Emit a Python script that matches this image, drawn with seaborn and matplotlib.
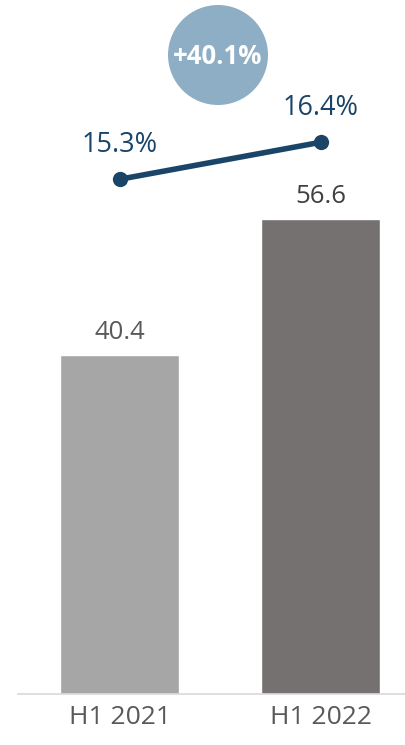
import seaborn as sns
import matplotlib.pyplot as plt
from matplotlib.patches import Ellipse
import pandas as pd

# chart data
periods = ["H1 2021", "H1 2022"]
revenue = [40.4, 56.6]
margin = [15.3, 16.4]
growth_label = "+40.1%"
bar_colors = ["#A6A6A6", "#767171"]
value_colors = ["#595959", "#404040"]

df = pd.DataFrame({"period": periods, "revenue": revenue, "margin": margin})

sns.set_style("white")
plt.rcParams['font.family'] = ['Open Sans', 'DejaVu Sans']

fig = plt.figure(figsize=(4.06, 7.45), dpi=100)
ax = fig.add_axes([18 / 406, 51 / 745, 388 / 406, 694 / 745])

sns.barplot(data=df, x="period", y="revenue", hue="period", palette=bar_colors,
            width=0.592, legend=False, ax=ax, saturation=1)
ax.set_xlim(-0.505, 1.425)
ax.set_ylim(0, 82.7)

for i, v in enumerate(revenue):
    ax.text(i, v + 1.2, f"{v:.1f}", ha="center", va="bottom", fontsize=18.5,
            color=value_colors[i])

# margin line on its own scale
ax2 = ax.twinx()
sns.lineplot(data=df, x="period", y="margin", color="#1A4568", linewidth=4,
             marker="o", markersize=11, markeredgewidth=0, ax=ax2)
ax2.set_ylim(0, 20.63)
for i, m in enumerate(margin):
    ax2.text(i, m + 0.6, f"{m:.1f}%", ha="center", va="bottom", fontsize=19.5,
             color="#1A4568")

for a in (ax, ax2):
    a.set_xlabel("")
    a.set_ylabel("")
    a.set_yticks([])
    for s in a.spines.values():
        s.set_visible(False)
ax.spines["bottom"].set_visible(True)
ax.spines["bottom"].set_color("#D9D9D9")
ax.spines["bottom"].set_linewidth(1.2)
ax.tick_params(axis="x", length=0, pad=8, labelsize=19, labelcolor="#595959")

# growth bubble
fig.add_artist(Ellipse((218 / 406, 1 - 55 / 745), 100 / 406, 100 / 745,
                       transform=fig.transFigure, color="#8EAEC5", lw=0))
fig.text(218 / 406, 1 - 56 / 745, growth_label, ha="center", va="center",
         fontsize=18.5, fontweight="bold", color="white")

fig.savefig("out.png", dpi=100)
